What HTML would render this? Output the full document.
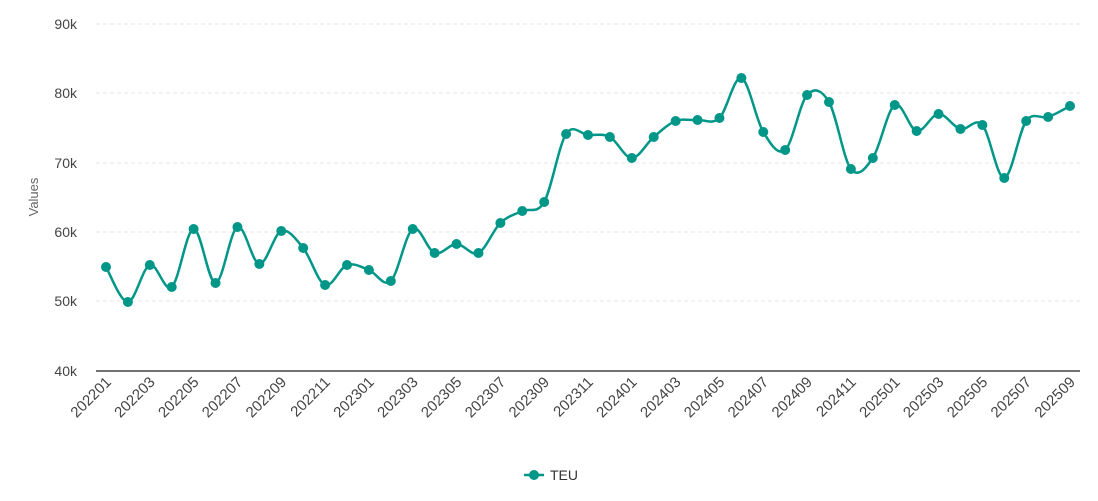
<!DOCTYPE html><html><head><meta charset="utf-8"><style>body{margin:0;background:#fff}svg{display:block;font-family:"Liberation Sans",sans-serif}</style></head><body>
<svg id="s" width="1098" height="501" xmlns="http://www.w3.org/2000/svg">
<g stroke="#e6e6e6" stroke-dasharray="4,3">
<line x1="96" x2="1080" y1="24" y2="24"/><line x1="96" x2="1080" y1="93" y2="93"/><line x1="96" x2="1080" y1="163" y2="163"/><line x1="96" x2="1080" y1="232" y2="232"/><line x1="96" x2="1080" y1="301" y2="301"/></g>
<line x1="96" x2="1080" y1="371" y2="371" stroke="#444" stroke-width="1.5"/>
<g font-size="14" fill="#444" text-anchor="end">
<text x="77" y="29">90k</text><text x="77" y="98">80k</text><text x="77" y="168">70k</text><text x="77" y="237">60k</text><text x="77" y="306">50k</text><text x="77" y="376">40k</text></g>
<text transform="translate(38,197) rotate(-90)" font-size="13" fill="#666" text-anchor="middle">Values</text>
<g id="xl" font-size="15" fill="#444" text-anchor="end"></g>
<path id="ln" fill="none" stroke="#009688" stroke-width="2.5"/>
<g id="pt" fill="#009688"></g>
<line x1="524" x2="544" y1="475" y2="475" stroke="#009688" stroke-width="2.5"/><circle cx="534" cy="475" r="5" fill="#009688"/>
<text x="550" y="480" font-size="14" fill="#333">TEU</text>
</svg>
<script>
var ys=[267,302,265,287,229,283,227,264,231,248,285,265,270,281,229,253,244,253,223,211,202,134,135,137,158,137,121,120,118,78,132,150,95,102,169,158,105,131,114,129,125,178,121,117,106];
var p=ys.map(function(y,i){return [106+i*(964/44),y]});
var d="M"+p[0][0]+","+p[0][1];
for(var i=0;i<p.length-1;i++){var a=p[i-1]||p[i],b=p[i],c=p[i+1],e=p[i+2]||c;
d+=" C"+(b[0]+(c[0]-a[0])/6)+","+(b[1]+(c[1]-a[1])/6)+" "+(c[0]-(e[0]-b[0])/6)+","+(c[1]-(e[1]-b[1])/6)+" "+c[0]+","+c[1];}
document.getElementById("ln").setAttribute("d",d);
var g="",l="";
p.forEach(function(q,i){g+='<circle cx="'+q[0]+'" cy="'+q[1]+'" r="5"/>';
if(i%2==0){var yr=2022+Math.floor(i/12),m=i%12+1;var t=yr+(m<10?"0":"")+m;
l+='<text transform="translate('+(q[0]+6)+',383) rotate(-45)">'+t+'</text>';}});
document.getElementById("pt").innerHTML=g;document.getElementById("xl").innerHTML=l;
</script></body></html>
